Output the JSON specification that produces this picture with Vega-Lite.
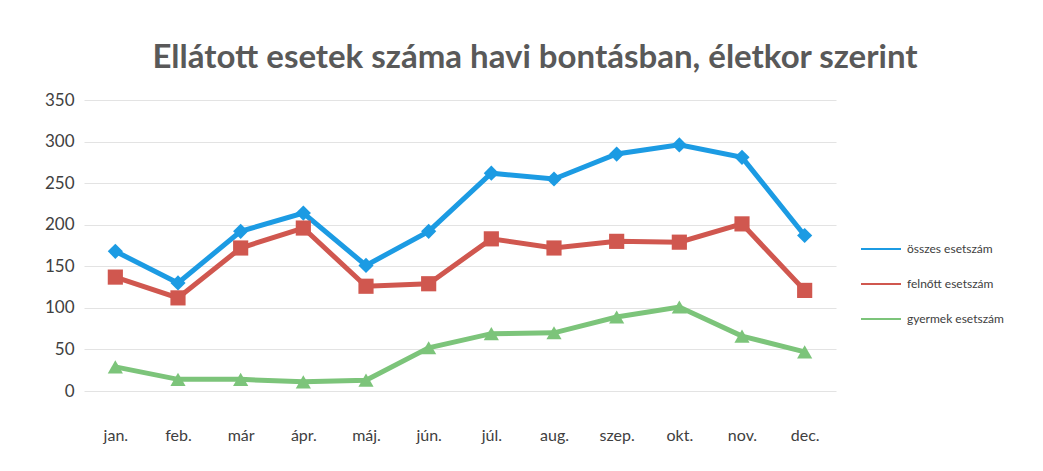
{
  "$schema": "https://vega.github.io/schema/vega-lite/v6.json",
  "width": 752,
  "height": 291,
  "autosize": "none",
  "padding": {"left": 84, "top": 100, "right": 207, "bottom": 80},
  "background": "white",
  "config": {"view": {"stroke": null}},
  "title": {
    "text": "Ellátott esetek száma havi bontásban, életkor szerint",
    "font": "Lato",
    "fontSize": 33,
    "fontWeight": "bold",
    "color": "#595959",
    "anchor": "middle",
    "frame": "group",
    "dx": 75,
    "offset": 16
  },
  "data": {
    "values": [
      {"honap": "jan.", "sorozat": "összes esetszám", "ertek": 168},
      {"honap": "feb.", "sorozat": "összes esetszám", "ertek": 130},
      {"honap": "már", "sorozat": "összes esetszám", "ertek": 192},
      {"honap": "ápr.", "sorozat": "összes esetszám", "ertek": 214},
      {"honap": "máj.", "sorozat": "összes esetszám", "ertek": 151},
      {"honap": "jún.", "sorozat": "összes esetszám", "ertek": 192},
      {"honap": "júl.", "sorozat": "összes esetszám", "ertek": 262},
      {"honap": "aug.", "sorozat": "összes esetszám", "ertek": 255},
      {"honap": "szep.", "sorozat": "összes esetszám", "ertek": 285},
      {"honap": "okt.", "sorozat": "összes esetszám", "ertek": 296},
      {"honap": "nov.", "sorozat": "összes esetszám", "ertek": 281},
      {"honap": "dec.", "sorozat": "összes esetszám", "ertek": 187},
      {"honap": "jan.", "sorozat": "felnőtt esetszám", "ertek": 137},
      {"honap": "feb.", "sorozat": "felnőtt esetszám", "ertek": 112},
      {"honap": "már", "sorozat": "felnőtt esetszám", "ertek": 172},
      {"honap": "ápr.", "sorozat": "felnőtt esetszám", "ertek": 196},
      {"honap": "máj.", "sorozat": "felnőtt esetszám", "ertek": 126},
      {"honap": "jún.", "sorozat": "felnőtt esetszám", "ertek": 129},
      {"honap": "júl.", "sorozat": "felnőtt esetszám", "ertek": 183},
      {"honap": "aug.", "sorozat": "felnőtt esetszám", "ertek": 172},
      {"honap": "szep.", "sorozat": "felnőtt esetszám", "ertek": 180},
      {"honap": "okt.", "sorozat": "felnőtt esetszám", "ertek": 179},
      {"honap": "nov.", "sorozat": "felnőtt esetszám", "ertek": 201},
      {"honap": "dec.", "sorozat": "felnőtt esetszám", "ertek": 121},
      {"honap": "jan.", "sorozat": "gyermek esetszám", "ertek": 29},
      {"honap": "feb.", "sorozat": "gyermek esetszám", "ertek": 14},
      {"honap": "már", "sorozat": "gyermek esetszám", "ertek": 14},
      {"honap": "ápr.", "sorozat": "gyermek esetszám", "ertek": 11},
      {"honap": "máj.", "sorozat": "gyermek esetszám", "ertek": 13},
      {"honap": "jún.", "sorozat": "gyermek esetszám", "ertek": 52},
      {"honap": "júl.", "sorozat": "gyermek esetszám", "ertek": 69},
      {"honap": "aug.", "sorozat": "gyermek esetszám", "ertek": 70},
      {"honap": "szep.", "sorozat": "gyermek esetszám", "ertek": 89},
      {"honap": "okt.", "sorozat": "gyermek esetszám", "ertek": 101},
      {"honap": "nov.", "sorozat": "gyermek esetszám", "ertek": 66},
      {"honap": "dec.", "sorozat": "gyermek esetszám", "ertek": 47}
    ]
  },
  "encoding": {
    "x": {
      "field": "honap",
      "type": "ordinal",
      "sort": ["jan.", "feb.", "már", "ápr.", "máj.", "jún.", "júl.", "aug.", "szep.", "okt.", "nov.", "dec."],
      "title": null,
      "axis": {
        "domain": false,
        "ticks": false,
        "labelAngle": 0,
        "labelFont": "Lato",
        "labelFontSize": 16,
        "labelColor": "#404040",
        "labelPadding": 36,
        "grid": false
      }
    },
    "y": {
      "field": "ertek",
      "type": "quantitative",
      "scale": {"domain": [0, 350], "nice": false},
      "title": null,
      "axis": {
        "values": [0, 50, 100, 150, 200, 250, 300, 350],
        "domain": false,
        "ticks": false,
        "labelFont": "Lato",
        "labelFontSize": 17,
        "labelColor": "#404040",
        "labelPadding": 10,
        "gridColor": "#e3e3e3",
        "gridWidth": 1
      }
    }
  },
  "layer": [
    {
      "mark": {"type": "line", "strokeWidth": 5},
      "encoding": {
        "color": {
          "field": "sorozat",
          "type": "nominal",
          "scale": {
            "domain": ["összes esetszám", "felnőtt esetszám", "gyermek esetszám"],
            "range": ["#1c9be3", "#d0574f", "#7cc47a"]
          },
          "legend": {
            "title": null,
            "orient": "none",
            "legendX": 776,
            "legendY": 128,
            "symbolType": "stroke",
            "symbolSize": 1600,
            "symbolStrokeWidth": 2,
            "labelFont": "Lato",
            "labelFontSize": 12,
            "labelColor": "#404040",
            "rowPadding": 8,
            "labelOffset": 5
          }
        }
      }
    },
    {
      "mark": {"type": "point", "filled": true, "opacity": 1, "size": 230},
      "encoding": {
        "color": {
          "field": "sorozat",
          "type": "nominal",
          "scale": {
            "domain": ["összes esetszám", "felnőtt esetszám", "gyermek esetszám"],
            "range": ["#1c9be3", "#d0574f", "#7cc47a"]
          },
          "legend": null
        },
        "shape": {
          "field": "sorozat",
          "type": "nominal",
          "scale": {
            "domain": ["összes esetszám", "felnőtt esetszám", "gyermek esetszám"],
            "range": ["diamond", "square", "triangle-up"]
          },
          "legend": null
        }
      }
    }
  ],
  "resolve": {"scale": {"color": "independent"}, "legend": {"color": "independent"}}
}
